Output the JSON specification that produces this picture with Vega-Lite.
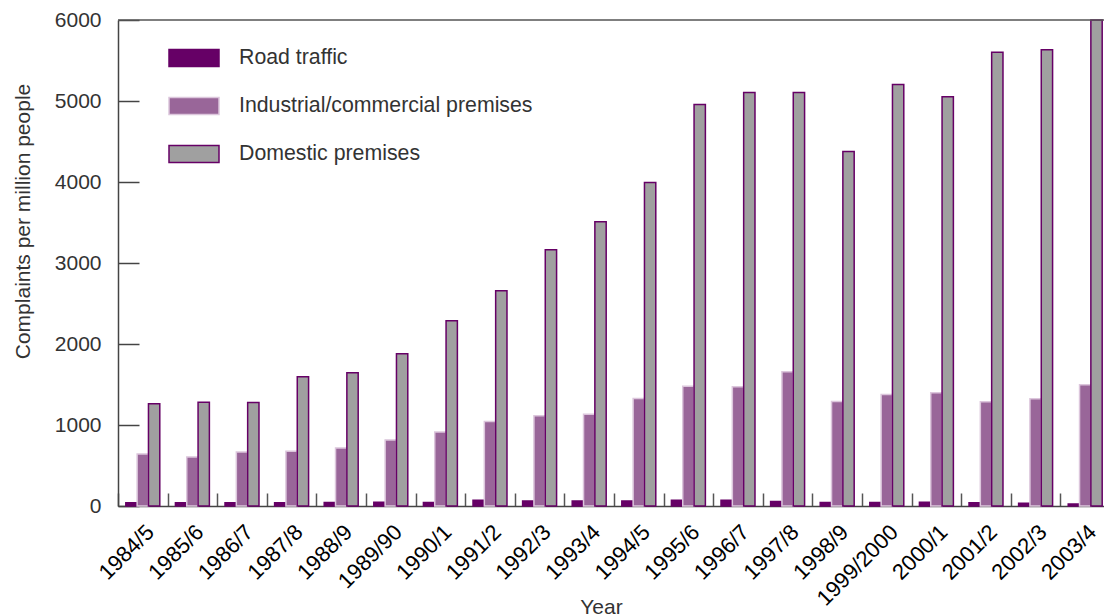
{
  "$schema": "https://vega.github.io/schema/vega-lite/v6.json",
  "width": 986,
  "height": 486,
  "autosize": {"type": "none"},
  "padding": {"left": 118, "top": 20, "right": 0, "bottom": 110},
  "background": "white",
  "config": {
    "view": {"stroke": null},
    "font": "Liberation Sans",
    "legend": {
      "orient": "none",
      "legendX": 50,
      "legendY": 12,
      "padding": 0,
      "symbolType": "M-1,-0.34H1V0.34H-1Z",
      "symbolSize": 2500,
      "symbolStrokeWidth": 1.5,
      "labelFontSize": 21.3,
      "labelColor": "#333",
      "labelFont": "Liberation Sans",
      "labelOffset": 19,
      "rowPadding": 10,
      "labelLimit": 500
    }
  },
  "datasets": {
    "top": [{"v": 6000}]
  },
  "data": {"values": [
    {"year": "1984/5", "source": "Road traffic", "complaints": 40},
    {"year": "1984/5", "source": "Industrial/commercial premises", "complaints": 643},
    {"year": "1984/5", "source": "Domestic premises", "complaints": 1261},
    {"year": "1985/6", "source": "Road traffic", "complaints": 40},
    {"year": "1985/6", "source": "Industrial/commercial premises", "complaints": 606},
    {"year": "1985/6", "source": "Domestic premises", "complaints": 1282},
    {"year": "1986/7", "source": "Road traffic", "complaints": 40},
    {"year": "1986/7", "source": "Industrial/commercial premises", "complaints": 667},
    {"year": "1986/7", "source": "Domestic premises", "complaints": 1277},
    {"year": "1987/8", "source": "Road traffic", "complaints": 40},
    {"year": "1987/8", "source": "Industrial/commercial premises", "complaints": 676},
    {"year": "1987/8", "source": "Domestic premises", "complaints": 1595},
    {"year": "1988/9", "source": "Road traffic", "complaints": 42},
    {"year": "1988/9", "source": "Industrial/commercial premises", "complaints": 717},
    {"year": "1988/9", "source": "Domestic premises", "complaints": 1644},
    {"year": "1989/90", "source": "Road traffic", "complaints": 45},
    {"year": "1989/90", "source": "Industrial/commercial premises", "complaints": 816},
    {"year": "1989/90", "source": "Domestic premises", "complaints": 1879},
    {"year": "1990/1", "source": "Road traffic", "complaints": 42},
    {"year": "1990/1", "source": "Industrial/commercial premises", "complaints": 915},
    {"year": "1990/1", "source": "Domestic premises", "complaints": 2287},
    {"year": "1991/2", "source": "Road traffic", "complaints": 70},
    {"year": "1991/2", "source": "Industrial/commercial premises", "complaints": 1042},
    {"year": "1991/2", "source": "Domestic premises", "complaints": 2658},
    {"year": "1992/3", "source": "Road traffic", "complaints": 62},
    {"year": "1992/3", "source": "Industrial/commercial premises", "complaints": 1114},
    {"year": "1992/3", "source": "Domestic premises", "complaints": 3164},
    {"year": "1993/4", "source": "Road traffic", "complaints": 62},
    {"year": "1993/4", "source": "Industrial/commercial premises", "complaints": 1133},
    {"year": "1993/4", "source": "Domestic premises", "complaints": 3510},
    {"year": "1994/5", "source": "Road traffic", "complaints": 62},
    {"year": "1994/5", "source": "Industrial/commercial premises", "complaints": 1327},
    {"year": "1994/5", "source": "Domestic premises", "complaints": 3993},
    {"year": "1995/6", "source": "Road traffic", "complaints": 70},
    {"year": "1995/6", "source": "Industrial/commercial premises", "complaints": 1479},
    {"year": "1995/6", "source": "Domestic premises", "complaints": 4957},
    {"year": "1996/7", "source": "Road traffic", "complaints": 70},
    {"year": "1996/7", "source": "Industrial/commercial premises", "complaints": 1471},
    {"year": "1996/7", "source": "Domestic premises", "complaints": 5105},
    {"year": "1997/8", "source": "Road traffic", "complaints": 55},
    {"year": "1997/8", "source": "Industrial/commercial premises", "complaints": 1656},
    {"year": "1997/8", "source": "Domestic premises", "complaints": 5105},
    {"year": "1998/9", "source": "Road traffic", "complaints": 42},
    {"year": "1998/9", "source": "Industrial/commercial premises", "complaints": 1290},
    {"year": "1998/9", "source": "Domestic premises", "complaints": 4376},
    {"year": "1999/2000", "source": "Road traffic", "complaints": 42},
    {"year": "1999/2000", "source": "Industrial/commercial premises", "complaints": 1376},
    {"year": "1999/2000", "source": "Domestic premises", "complaints": 5204},
    {"year": "2000/1", "source": "Road traffic", "complaints": 45},
    {"year": "2000/1", "source": "Industrial/commercial premises", "complaints": 1397},
    {"year": "2000/1", "source": "Domestic premises", "complaints": 5054},
    {"year": "2001/2", "source": "Road traffic", "complaints": 40},
    {"year": "2001/2", "source": "Industrial/commercial premises", "complaints": 1286},
    {"year": "2001/2", "source": "Domestic premises", "complaints": 5603},
    {"year": "2002/3", "source": "Road traffic", "complaints": 35},
    {"year": "2002/3", "source": "Industrial/commercial premises", "complaints": 1323},
    {"year": "2002/3", "source": "Domestic premises", "complaints": 5633},
    {"year": "2003/4", "source": "Road traffic", "complaints": 25},
    {"year": "2003/4", "source": "Industrial/commercial premises", "complaints": 1496},
    {"year": "2003/4", "source": "Domestic premises", "complaints": 6000}
  ]},
  "layer": [
    {
      "mark": {"type": "bar", "strokeWidth": 1.5},
      "encoding": {
        "x": {
          "field": "year", "type": "nominal", "sort": null,
          "scale": {"range": [0, 992], "paddingInner": 0.315, "paddingOuter": 0.1575},
          "axis": {
            "title": "Year",
            "labelAngle": -45,
            "labelFontSize": 22,
            "labelColor": "#000",
            "labelFont": "Liberation Sans",
            "labelPadding": 28,
            "labelOffset": 7.8,
            "bandPosition": 0,
            "tickOffset": -7.8,
            "tickSize": -13,
            "tickColor": "#555",
            "tickWidth": 1.5,
            "domainColor": "#444",
            "domainWidth": 1.5,
            "titleFontSize": 21,
            "titleColor": "#333",
            "titleFontWeight": "normal",
            "titleFont": "Liberation Sans",
            "titleX": 483,
            "titleY": 90,
            "titleBaseline": "top",
            "titleAlign": "center"
          }
        },
        "xOffset": {
          "field": "source", "type": "nominal",
          "sort": ["Road traffic", "Industrial/commercial premises", "Domestic premises"],
          "scale": {"paddingInner": 0, "paddingOuter": 0}
        },
        "y": {
          "field": "complaints", "type": "quantitative",
          "scale": {"domain": [0, 6000], "nice": false},
          "axis": {
            "title": "Complaints per million people",
            "values": [0, 1000, 2000, 3000, 4000, 5000, 6000],
            "format": "d",
            "grid": false,
            "tickSize": -21,
            "tickColor": "#444",
            "tickWidth": 1.5,
            "domainColor": "#444",
            "domainWidth": 1.5,
            "labelFontSize": 21,
            "labelColor": "#333",
            "labelFont": "Liberation Sans",
            "labelPadding": 38,
            "titleFontSize": 21,
            "titleColor": "#333",
            "titleFontWeight": "normal",
            "titleFont": "Liberation Sans",
            "titleAngle": -90,
            "titleX": -95,
            "titleY": 201,
            "titleAlign": "center",
            "titleBaseline": "middle"
          }
        },
        "fill": {
          "field": "source", "type": "nominal",
          "scale": {
            "domain": ["Road traffic", "Industrial/commercial premises", "Domestic premises"],
            "range": ["#660066", "#996699", "#a0a0a0"]
          },
          "legend": {"title": null}
        },
        "stroke": {
          "field": "source", "type": "nominal",
          "scale": {
            "domain": ["Road traffic", "Industrial/commercial premises", "Domestic premises"],
            "range": ["#660066", "#dcc6dc", "#660066"]
          },
          "legend": {"title": null}
        }
      }
    },
    {
      "data": {"name": "top"},
      "mark": {"type": "rule", "color": "#555", "strokeWidth": 1.5},
      "encoding": {"y": {"field": "v", "type": "quantitative"}}
    }
  ]
}
